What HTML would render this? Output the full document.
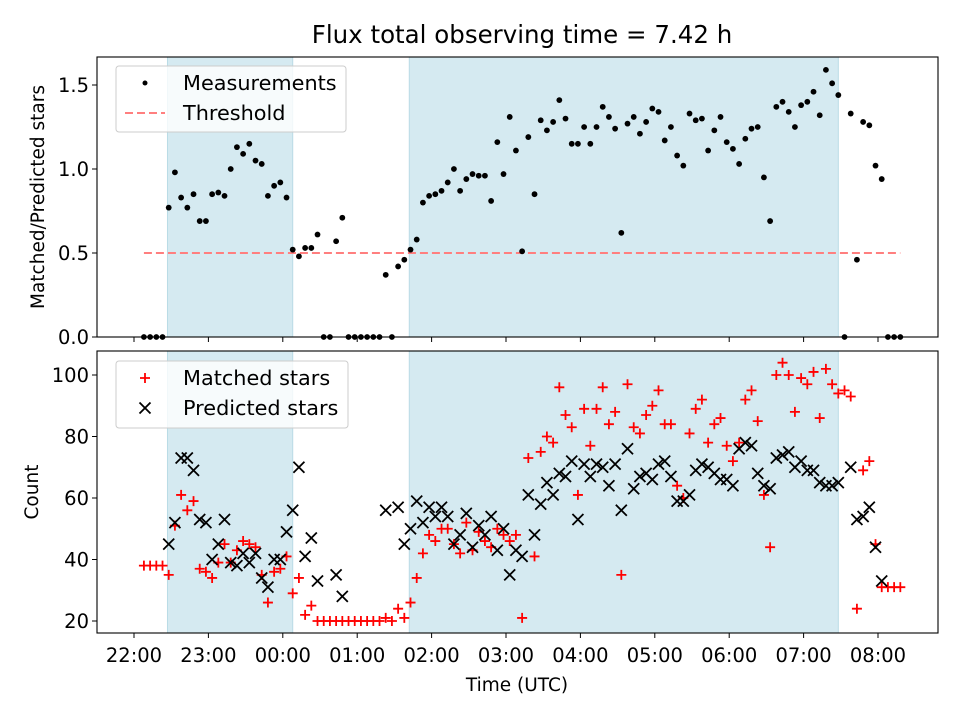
<!DOCTYPE html>
<html><head><meta charset="utf-8"><style>
body{margin:0;background:#fff;}
svg{display:block;font-family:"DejaVu Sans","Liberation Sans",sans-serif;}
</style></head><body>
<svg id="fig" width="960" height="720" viewBox="0 0 960 720"></svg>
<script>
// ---- data ----
const startTime = "22:08";
const stepMinutes = 5;
const ratio = [0,0,0,0,0.77,0.98,0.83,0.77,0.85,0.69,0.69,0.85,0.86,0.84,1.00,1.13,1.09,1.15,1.05,1.03,0.84,0.90,0.92,0.83,0.52,0.48,0.53,0.53,0.61,0,0,0.57,0.71,0,0,0,0,0,0,0.37,0,0.42,0.46,0.52,0.58,0.80,0.84,0.85,0.87,0.92,1.00,0.87,0.94,0.97,0.96,0.96,0.81,1.16,0.97,1.31,1.11,0.51,1.19,0.85,1.29,1.23,1.28,1.41,1.30,1.15,1.15,1.25,1.15,1.25,1.37,1.31,1.24,0.62,1.27,1.31,1.21,1.28,1.36,1.34,1.17,1.25,1.08,1.02,1.33,1.29,1.30,1.11,1.23,1.31,1.16,1.12,1.03,1.18,1.24,1.25,0.95,0.69,1.37,1.40,1.34,1.25,1.38,1.40,1.46,1.32,1.59,1.51,1.44,0,1.33,0.46,1.28,1.26,1.02,0.94,0,0,0];
const matched = [38,38,38,38,35,51,61,56,59,37,36,34,39,45,39,43,46,45,44,35,26,36,37,41,29,34,22,25,20,20,20,20,20,20,20,20,20,20,20,21,20,24,21,26,34,42,48,46,50,50,45,42,52,43,49,46,44,50,48,46,48,21,73,41,75,80,78,96,87,83,61,89,77,89,96,84,88,35,97,83,81,87,90,95,84,84,64,60,81,89,92,78,84,86,77,72,78,92,95,85,61,44,100,104,100,88,99,97,101,86,102,97,94,95,93,24,69,72,45,31,31,31,31];
const predicted = [null,null,null,null,45,52,73,73,69,53,52,40,45,53,39,38,42,39,42,34,31,40,40,49,56,70,41,47,33,null,null,35,28,null,null,null,null,null,null,56,null,57,45,50,59,52,57,54,57,54,45,48,55,44,51,48,54,43,50,35,43,41,61,48,58,65,61,68,67,72,53,71,67,71,70,64,71,56,76,63,67,68,66,71,72,67,59,59,61,69,71,70,68,66,66,64,76,78,77,68,64,63,73,74,75,70,72,69,69,65,64,64,65,null,70,53,54,57,44,33,null,null,null];
const shadeStart = ["22:27","01:42"];
const shadeEnd = ["00:08","07:28"];
const xTickLabels = ["22:00","23:00","00:00","01:00","02:00","03:00","04:00","05:00","06:00","07:00","08:00"];
const topTicks = [0.0,0.5,1.0,1.5];
const botTicks = [20,40,60,80,100];
const threshold = 0.5;

// ---- helpers ----
const NS="http://www.w3.org/2000/svg";
const svg=document.getElementById('fig');
function mk(tag,attrs,parent){const e=document.createElementNS(NS,tag);for(const k in attrs)e.setAttribute(k,attrs[k]);(parent||svg).appendChild(e);return e;}
function hm(s){const [h,m]=s.split(':').map(Number);let v=h+m/60;if(v<12)v+=24;return v-22;}
const L=97,R=938;
const FS=18.5, TFS=19.5, LFS=20.8;
const xOf=h=>134+h*74.4;
const T0=hm(startTime);
const times=ratio.map((_,i)=>T0+i*stepMinutes/60);
const topAx={t:57,b:337},botAx={t:351,b:633};
const yTop=v=>337-v*168;
const yBot=v=>621-(v-20)*3.075;

// title
let t=mk('text',{x:522,y:43,'font-size':24.5,'text-anchor':'middle',fill:'#000'});t.textContent="Flux total observing time = 7.42 h";



function panel(ax,name){
  const g=mk('g',{});
  
  
  for(let i=0;i<shadeStart.length;i++){
    const x1=xOf(hm(shadeStart[i])),x2=xOf(hm(shadeEnd[i]));
    const r=mk('rect',{x:x1,y:ax.t,width:x2-x1,height:ax.b-ax.t,fill:'#d5eaf1',stroke:'#b9dbe6','stroke-width':1},g);
    
    
  }
  return g;
}
function frame(ax,g){
  const r=mk('rect',{x:L,y:ax.t,width:R-L,height:ax.b-ax.t,fill:'none',stroke:'#000','stroke-width':1.1},g);
  
  
  xTickLabels.forEach(s=>{const x=xOf(hm(s));mk('line',{x1:x,x2:x,y1:ax.b,y2:ax.b+5,stroke:'#000','stroke-width':1},g);});
}

// ---- top panel ----
const gT=panel(topAx,'ratio-panel');
const th=mk('line',{x1:xOf(times[0]),x2:xOf(times[times.length-1]),y1:yTop(threshold),y2:yTop(threshold),stroke:'#ff7f7f','stroke-width':2,'stroke-dasharray':'8,4'},gT);


ratio.forEach((v,i)=>{
  const c=mk('circle',{cx:xOf(times[i]),cy:yTop(v),r:2.9,fill:'#000'},gT);
  
  
});
frame(topAx,gT);
topTicks.forEach(v=>{
  const y=yTop(v);mk('line',{x1:L-5,x2:L,y1:y,y2:y,stroke:'#000'},gT);
  const tx=mk('text',{x:L-8,y:y+7,'font-size':TFS,'text-anchor':'end'},gT);tx.textContent=v.toFixed(1);
  
  
});
t=mk('text',{x:44,y:197,'font-size':FS,'text-anchor':'middle',transform:'rotate(-90 44 197)'});t.textContent="Matched/Predicted stars";



// ---- bottom panel ----
const gB=panel(botAx,'count-panel');
matched.forEach((v,i)=>{
  if(v==null)return;const x=xOf(times[i]),y=yBot(v);
  const p=mk('path',{d:`M${x-5},${y}H${x+5}M${x},${y-5}V${y+5}`,stroke:'#f00','stroke-width':1.8,fill:'none'},gB);
  
  
});
predicted.forEach((v,i)=>{
  if(v==null)return;const x=xOf(times[i]),y=yBot(v);
  const p=mk('path',{d:`M${x-5.5},${y-5.5}L${x+5.5},${y+5.5}M${x-5.5},${y+5.5}L${x+5.5},${y-5.5}`,stroke:'#000','stroke-width':1.8,fill:'none'},gB);
  
  
});
frame(botAx,gB);
botTicks.forEach(v=>{
  const y=yBot(v);mk('line',{x1:L-5,x2:L,y1:y,y2:y,stroke:'#000'},gB);
  const tx=mk('text',{x:L-8,y:y+7,'font-size':TFS,'text-anchor':'end'},gB);tx.textContent=v;
  
  
});
xTickLabels.forEach(s=>{
  const tx=mk('text',{x:xOf(hm(s)),y:662,'font-size':TFS,'text-anchor':'middle'},gB);tx.textContent=s;
  
  
});
t=mk('text',{x:38,y:492,'font-size':FS,'text-anchor':'middle',transform:'rotate(-90 38 492)'});t.textContent="Count";


t=mk('text',{x:517,y:691,'font-size':FS,'text-anchor':'middle'});t.textContent="Time (UTC)";



// ---- legends ----
function legend(x,y,w,h,items,name){
  const g=mk('g',{});
  
  
  mk('rect',{x,y,width:w,height:h,rx:3,fill:'rgba(255,255,255,0.8)',stroke:'#ccc'},g);
  items.forEach((it,i)=>{
    const cy=y+17+i*30,cx=x+29;
    let m;
    if(it.k==='dot')m=mk('circle',{cx,cy,r:2.5,fill:'#000'},g);
    else if(it.k==='dash')m=mk('line',{x1:cx-20,x2:cx+20,y1:cy,y2:cy,stroke:'#ff7f7f','stroke-width':2,'stroke-dasharray':'8,4'},g);
    else if(it.k==='plus')m=mk('path',{d:`M${cx-5},${cy}H${cx+5}M${cx},${cy-5}V${cy+5}`,stroke:'#f00','stroke-width':1.8},g);
    else m=mk('path',{d:`M${cx-5.5},${cy-5.5}L${cx+5.5},${cy+5.5}M${cx-5.5},${cy+5.5}L${cx+5.5},${cy-5.5}`,stroke:'#000','stroke-width':1.8},g);
    const tx=mk('text',{x:x+67,y:cy+7,'font-size':LFS},g);tx.textContent=it.l;
    
    
  });
}
legend(116,66,230,66,[{k:'dot',l:'Measurements'},{k:'dash',l:'Threshold'}],'top-legend');
legend(116,361,232,67,[{k:'plus',l:'Matched stars'},{k:'x',l:'Predicted stars'}],'bottom-legend');
</script>
</body></html>
